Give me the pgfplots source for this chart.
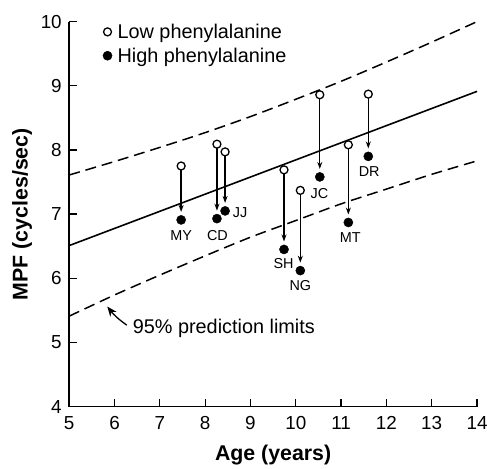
\documentclass[border=0pt]{standalone}
\usepackage{fontspec}
\setmainfont{Liberation Sans}
\usepackage{pgfplots}
\pgfplotsset{compat=1.18}
\usetikzlibrary{arrows.meta}

\begin{document}
\begin{tikzpicture}
\begin{axis}[
  name=ax,
  scale only axis, width=409.5bp, height=386.6bp,
  xmin=5, xmax=14, ymin=4, ymax=10,
  axis lines=left,
  axis line style={-, line width=1.6bp},
  xtick={5,...,14}, ytick={4,...,10},
  tick align=inside, major tick length=8bp,
  tick style={line width=1.3bp, black},
  /pgf/number format/assume math mode=true,
  ticklabel style={font=\fontsize{19}{22}\selectfont},
  yticklabel style={xshift=-4bp},
  xticklabel style={yshift=-6bp},
  xlabel={Age (years)}, ylabel={MPF (cycles/sec)},
  label style={font=\fontsize{21.5}{24}\selectfont\bfseries},
  xlabel style={yshift=-9bp},
  ylabel style={yshift=2bp},
  clip=false,
  legend style={draw=none, fill=none, font=\fontsize{20}{24}\selectfont,
    at={(axis cs:5.74,9.99)}, anchor=north west, legend cell align=left,
    row sep=5bp, column sep=4bp, inner sep=0bp,
    nodes={inner sep=1.5bp}},
  legend image code/.code={\draw[#1] plot coordinates {(0bp,0bp)};},
]
% regression line and 95% prediction limits
\addplot[forget plot, black, line width=1.6bp] coordinates {(5,6.51) (14,8.913)};
\addplot[forget plot, black, line width=1.5bp, dash pattern=on 11bp off 6bp, smooth] coordinates {
  (5,7.61) (6,7.82) (7,8.04) (8,8.27) (9,8.52) (10,8.79) (11,9.07) (12,9.37) (13,9.68) (14,10.00)};
\addplot[forget plot, black, line width=1.5bp, dash pattern=on 11bp off 6bp, smooth] coordinates {
  (5,5.41) (6,5.74) (7,6.05) (8,6.35) (9,6.64) (10,6.90) (11,7.16) (12,7.39) (13,7.62) (14,7.83)};
% arrows low -> high
\pgfplotsset{arr/.style={forget plot, black, line width=1.3bp, -{Stealth[length=7bp,width=5bp]}, shorten <=4bp, shorten >=8bp}}
\addplot[arr] coordinates {(7.47,7.75) (7.47,6.91)};
\addplot[arr] coordinates {(8.26,8.09) (8.26,6.93)};
\addplot[arr] coordinates {(8.44,7.97) (8.44,7.05)};
\addplot[arr] coordinates {(9.74,7.69) (9.74,6.45)};
\addplot[arr] coordinates {(10.10,7.37) (10.10,6.12)};
\addplot[arr] coordinates {(10.53,8.86) (10.53,7.58)};
\addplot[arr] coordinates {(11.16,8.08) (11.16,6.87)};
\addplot[arr] coordinates {(11.60,8.87) (11.60,7.90)};
% low phenylalanine (open)
\addplot[only marks, mark=*, mark size=4bp, mark options={fill=white, draw=black, line width=1.3bp}] coordinates {
  (7.47,7.75) (8.26,8.09) (8.44,7.97) (9.74,7.69) (10.10,7.37) (10.53,8.86) (11.16,8.08) (11.60,8.87)};
\addlegendentry{Low phenylalanine}
% high phenylalanine (filled)
\addplot[only marks, mark=*, mark size=4.6bp, mark options={fill=black, draw=black}] coordinates {
  (7.47,6.91) (8.26,6.93) (8.44,7.05) (9.74,6.45) (10.10,6.12) (10.53,7.58) (11.16,6.87) (11.60,7.90)};
\addlegendentry{High phenylalanine}
% point labels
\begin{scope}[every node/.style={font=\fontsize{14.5}{16}\selectfont, inner sep=0pt}]
\node at (axis cs:7.47,6.67) {MY};
\node at (axis cs:8.27,6.67) {CD};
\node at (axis cs:8.77,7.03) {JJ};
\node at (axis cs:9.73,6.23) {SH};
\node at (axis cs:10.10,5.89) {NG};
\node at (axis cs:10.52,7.32) {JC};
\node at (axis cs:11.20,6.64) {MT};
\node at (axis cs:11.62,7.67) {DR};
\end{scope}
% annotation
\node[anchor=base west, inner sep=0pt, font=\fontsize{20}{24}\selectfont] at (axis cs:6.40,5.14) {95\% prediction limits};
\draw[line width=1.3bp, -{Stealth[length=10bp,width=8bp]}] (axis cs:6.27,5.27) to[bend left=8] (axis cs:5.84,5.56);
\end{axis}
\pgfresetboundingbox
\useasboundingbox ([xshift=-69.5bp,yshift=-62bp]ax.south west) rectangle ([xshift=10bp,yshift=21.7bp]ax.north east);
\end{tikzpicture}
\end{document}
